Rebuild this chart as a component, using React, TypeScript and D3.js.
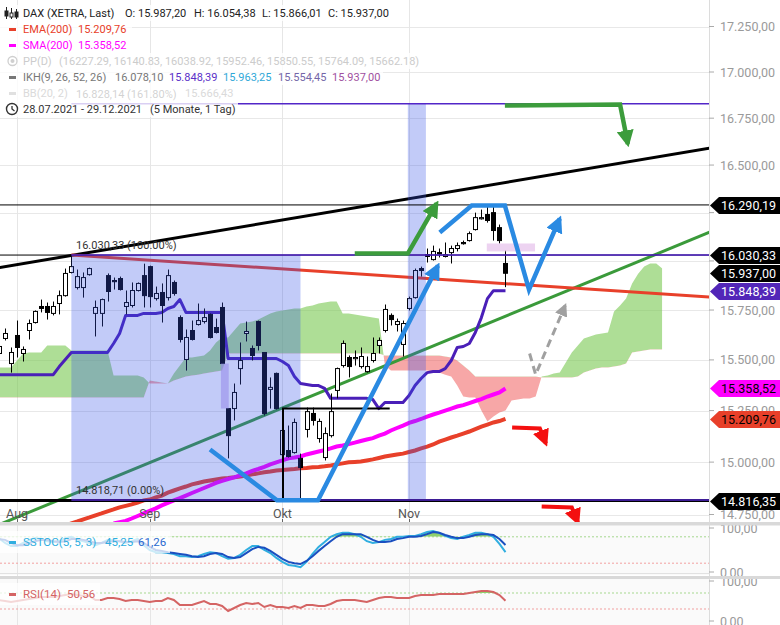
import React from 'react';
import * as d3 from 'd3';

const W = 780;
const H = 625;
const PLOT_R = 709;
const MAIN_BOTTOM = 522;
const FONT = "Roboto, 'Liberation Sans', Arial, sans-serif";

// trading days from 28.07.2021, index 0 .. 84 (23.11.2021)
const MONTHS = [
  { label: 'Aug', idx: 3 },
  { label: 'Sep', idx: 25 },
  { label: 'Okt', idx: 47 },
  { label: 'Nov', idx: 68 },
];

const OPEN = [15532, 15607, 15482, 15622, 15532, 15647, 15687, 15768, 15768, 15733,
  15783, 15823, 15941, 15864, 15864, 15930, 15733, 15733, 15925, 15900,
  15910, 15768, 15773, 15849, 15925, 15971, 15808, 15839, 15813, 15890,
  15712, 15502, 15647, 15677, 15692, 15728, 15662, 15763, 15260, 15260,
  15457, 15632, 15557, 15692, 15537, 15354, 15433, 15036, 15056, 15046,
  15018, 15158, 15236, 15114, 15022, 15128, 15349, 15472, 15512, 15507,
  15467, 15442, 15497, 15572, 15647, 15723, 15677, 15577, 15758, 15813,
  15961, 16033, 16007, 16043, 16023, 16043, 16064, 16095, 16105, 16162,
  16219, 16240, 16250, 16172, 15987.2];
const HIGH = [15607, 15657, 15562, 15697, 15567, 15702, 15748, 15803, 15788, 15793,
  15849, 15961, 16030.33, 15956, 15941, 15966, 15798, 15808, 15936, 15915,
  15920, 15849, 15890, 15890, 15986, 15976, 15869, 15885, 15956, 15900,
  15723, 15652, 15697, 15783, 15758, 15733, 15707, 15788, 15260, 15383,
  15587, 15692, 15572, 15697, 15537, 15413, 15437, 15260, 15177, 15211,
  15041, 15265, 15265, 15211, 15168, 15334, 15462, 15597, 15522, 15547,
  15562, 15517, 15612, 15612, 15778, 15733, 15707, 15697, 15818, 15961,
  15971, 16064, 16079, 16064, 16095, 16079, 16095, 16105, 16152, 16250,
  16266, 16290.19, 16280, 16188, 16054.38];
const LOW = [15497, 15597, 15437, 15512, 15492, 15602, 15682, 15738, 15702, 15723,
  15728, 15818, 15936, 15854, 15813, 15925, 15617, 15667, 15793, 15854,
  15849, 15728, 15763, 15844, 15763, 15763, 15798, 15687, 15798, 15823,
  15587, 15447, 15597, 15672, 15682, 15607, 15632, 15482, 15018, 15202,
  15378, 15592, 15497, 15547, 15226, 15260, 15255, 14984, 15022, 15041,
  14818.71, 15119, 15177, 15094, 15008, 15119, 15310, 15462, 15413, 15472,
  15457, 15437, 15487, 15532, 15637, 15672, 15642, 15517, 15748, 15808,
  15920, 15992, 16002, 16018, 16018, 15987, 16049, 16084, 16100, 16157,
  16214, 16198, 16105, 16090, 15866.01];
const CLOSE = [15567, 15632, 15537, 15562, 15552, 15682, 15743, 15758, 15738, 15768,
  15823, 15936, 15971, 15920, 15915, 15961, 15763, 15803, 15844, 15895,
  15854, 15788, 15849, 15885, 15823, 15818, 15834, 15773, 15925, 15834,
  15602, 15612, 15602, 15697, 15712, 15612, 15637, 15482, 15128, 15339,
  15497, 15642, 15522, 15572, 15236, 15364, 15260, 15153, 15027, 15192,
  14974, 15245, 15202, 15197, 15138, 15245, 15457, 15582, 15467, 15512,
  15517, 15467, 15532, 15597, 15753, 15702, 15692, 15682, 15808, 15951,
  15951, 16023, 16049, 16038, 16033, 16064, 16079, 16090, 16141, 16224,
  16224, 16209, 16157, 16105, 15937];

// Ichimoku Kijun-sen
const KIJUN = [15427, 15427, 15427, 15427, 15427, 15427, 15427, 15427, 15427, 15427,
  15467, 15502, 15537, 15537, 15537, 15537, 15537, 15537, 15537, 15582,
  15632, 15723, 15723, 15723, 15733, 15733, 15733, 15738, 15758, 15768,
  15803, 15738, 15738, 15738, 15738, 15738, 15738, 15738, 15507, 15507,
  15507, 15507, 15507, 15507, 15507, 15507, 15507, 15492, 15472, 15418,
  15383, 15378, 15373, 15373, 15359, 15310, 15310, 15310, 15310, 15310,
  15310, 15310, 15304, 15260, 15290, 15290, 15290, 15290, 15324, 15373,
  15408, 15437, 15442, 15442, 15457, 15497, 15562, 15567, 15582, 15637,
  15712, 15808, 15848.39, 15848.39, 15848.39];

// Senkou span A / B (already shifted 26 days forward), index 0 .. 110
const SENKOU_A = [15462, 15462, 15462, 15497, 15532, 15537, 15537, 15537, 15572, 15572,
  15572, 15572, 15547, 15547, 15547, 15547, 15547, 15547, 15547, 15423,
  15423, 15423, 15423, 15423, 15413, 15383, 15383, 15383, 15383, 15432,
  15472, 15512, 15512, 15517, 15522, 15547, 15587, 15612, 15612, 15647,
  15682, 15687, 15692, 15702, 15718, 15733, 15743, 15748, 15753, 15758,
  15758, 15768, 15773, 15783, 15788, 15793, 15793, 15733, 15733, 15728,
  15723, 15718, 15712, 15707, 15472, 15447, 15447, 15447, 15447, 15447,
  15447, 15447, 15442, 15437, 15427, 15418, 15373, 15319, 15314, 15314,
  15250, 15197, 15221, 15241, 15250, 15299, 15304, 15309, 15309, 15319,
  15418, 15423, 15432, 15437, 15487, 15537, 15572, 15607, 15617, 15627,
  15632, 15637, 15743, 15773, 15808, 15885, 15935, 15971, 15987, 15987,
  15961];
const SENKOU_B = [15314, 15314, 15314, 15314, 15314, 15314, 15314, 15314, 15314, 15314,
  15314, 15314, 15314, 15314, 15314, 15314, 15314, 15314, 15314, 15314,
  15314, 15314, 15314, 15314, 15314, 15398, 15393, 15388, 15383, 15398,
  15408, 15418, 15423, 15427, 15432, 15437, 15442, 15447, 15532, 15532,
  15532, 15532, 15532, 15532, 15532, 15532, 15532, 15532, 15532, 15532,
  15532, 15532, 15532, 15532, 15532, 15532, 15532, 15532, 15532, 15532,
  15532, 15532, 15532, 15532, 15522, 15522, 15522, 15522, 15522, 15522,
  15522, 15522, 15522, 15522, 15517, 15512, 15497, 15472, 15447, 15418,
  15418, 15418, 15418, 15418, 15418, 15418, 15418, 15418, 15418, 15418,
  15413, 15413, 15413, 15413, 15413, 15413, 15418, 15437, 15447, 15457,
  15462, 15462, 15467, 15472, 15482, 15537, 15542, 15547, 15552, 15552,
  15552];

const EMA_START = 10;
const EMA200 = [14689, 14698, 14708, 14717, 14727, 14736, 14746, 14755, 14765, 14774,
  14784, 14791, 14798, 14807, 14817, 14821, 14831, 14840, 14854, 14864,
  14874, 14883, 14893, 14900, 14907, 14912, 14917, 14922, 14924, 14927,
  14931, 14936, 14941, 14946, 14951, 14955, 14960, 14962, 14965, 14967,
  14970, 14972, 14975, 14977, 14980, 14984, 14989, 14994, 14999, 15001,
  15003, 15008, 15013, 15020, 15027, 15032, 15037, 15041, 15049, 15056,
  15066, 15075, 15085, 15099, 15109, 15119, 15128, 15138, 15148, 15160,
  15172, 15182, 15192, 15199, 15209.76];

const SMA_START = 19;
const SMA200 = [14708, 14714, 14720, 14731, 14743, 14755, 14767, 14779, 14793, 14805, 14817,
  14828, 14840, 14852, 14864, 14876, 14888, 14900, 14910, 14919, 14927,
  14936, 14946, 14958, 14967, 14977, 14989, 14999, 15008, 15018, 15022,
  15027, 15037, 15044, 15051, 15058, 15066, 15075, 15080, 15087, 15094,
  15102, 15109, 15116, 15128, 15138, 15153, 15165, 15177, 15190, 15199,
  15209, 15221, 15231, 15240, 15250, 15260, 15270, 15277, 15287, 15297,
  15306, 15319, 15329, 15339, 15358.52];

const SSTOC_K = [77, 66, 59, 59, 66, 73, 77, 75, 70, 68, 70, 77, 80, 73, 70, 66, 61, 66, 73, 73,
  70, 66, 70, 75, 61, 50, 45, 45, 43, 41, 36, 36, 34, 36, 41, 45, 43, 36, 30, 32,
  39, 50, 59, 59, 50, 43, 32, 23, 16, 14, 11, 23, 41, 57, 68, 80, 86, 89, 89, 86,
  80, 70, 66, 68, 73, 75, 80, 80, 82, 82, 86, 91, 93, 89, 82, 77, 75, 80, 84, 89,
  89, 86, 80, 64, 45.25];
const SSTOC_D = [75, 73, 66, 61, 61, 66, 70, 73, 73, 70, 68, 70, 75, 75, 73, 70, 66, 66, 68, 70,
  70, 68, 68, 70, 66, 57, 50, 48, 45, 43, 41, 39, 36, 34, 36, 41, 43, 41, 34, 32,
  34, 43, 52, 57, 55, 48, 39, 30, 23, 20, 18, 25, 36, 48, 59, 70, 80, 86, 86, 86,
  86, 80, 73, 68, 68, 70, 75, 77, 80, 80, 82, 86, 91, 89, 84, 80, 77, 77, 80, 84,
  86, 86, 84, 75, 61.26];
const RSI = [52.5, 50, 47.5, 50, 52.5, 55, 57.5, 60, 60, 60, 62.5, 65, 67.5, 65, 62.5, 62.5, 52.5, 52.5, 57.5, 57.5,
  55, 50, 52.5, 52.5, 50, 47.5, 50, 50, 57.5, 52.5, 40, 40, 40, 45, 50, 42.5, 42.5, 37.5, 25, 32.5,
  40, 45, 42.5, 45, 35, 40, 35, 35, 32.5, 37.5, 32.5, 40, 40, 37.5, 37.5, 42.5, 50, 52.5, 52.5, 52.5,
  50, 47.5, 52.5, 57.5, 60, 60, 57.5, 57.5, 57.5, 62.5, 65, 65, 65, 67.5, 67.5, 67.5, 67.5, 67.5, 70, 72.5,
  75, 75, 72.5, 65, 50.56];

// 16.250 and 16.000 sit fully behind price tags, so they are not drawn
const PRICE_TICKS = [14750, 15000, 15250, 15500, 15750, 16500, 16750, 17000, 17250];
const GRID_TICKS = [14750, 15000, 15250, 15500, 15750, 16000, 16250, 16500, 16750, 17000, 17250];

// drawings: [dayIndex, price]
const TREND_BLACK = [[0, 15966], [118, 16590]];
const TREND_RED = [[12, 16030.33], [118, 15815]];
const TREND_GREEN = [[0, 14702], [118, 16150]];
const FIB_HIGH = 16030.33;
const FIB_LOW = 14818.71;
const FIB_EXT = 16828.14;
const FIB_FROM = 12;
const FIB_TO = 50;
const H_LINES = [
  { v: 16290.19, w: 1 },
  { v: 16030.33, w: 1 },
  { v: 14816.35, w: 3 },
];
const NOV_BAND = [67.8, 70.8];
const GAP_BOX = [36.8, 38.1, 15482, 15260];
const PINK_BOX = [80.9, 88.9, 16090, 16049];
const BLACK_SEG = [[47.1, 14817], [47.1, 15260], [64.8, 15260]];
const ARROWS = [
  { color: '#3c9c3c', w: 4.5, dash: '', pts: [[59, 16038], [67.8, 16038], [72.6, 16298]] },
  { color: '#3c9c3c', w: 4.5, dash: '', pts: [[83.9, 16818], [103, 16824], [104.3, 16612]] },
  { color: '#2a8ae2', w: 4.5, dash: '', pts: [[35, 15061], [46.1, 14817], [52.9, 14817], [72.8, 15976]] },
  { color: '#2a8ae2', w: 4.5, dash: '', pts: [[73.1, 16147], [78.4, 16287], [83.9, 16287], [87.9, 15854], [93, 16219]] },
  { color: '#f41010', w: 4, dash: '', pts: [[85.1, 15168], [89.7, 15163], [90.7, 15090]] },
  { color: '#f41010', w: 4, dash: '', pts: [[90, 14788], [95, 14783], [96, 14712]] },
  { color: '#a0a0a0', w: 3, dash: '8,5', pts: [[88, 15532], [89, 15427], [93.9, 15773]] },
];

const RIGHT_TAGS = [
  { v: 16290.19, bg: '#000', fg: '#fff' },
  { v: 16030.33, bg: '#000', fg: '#fff' },
  { v: 15937.0, bg: '#000', fg: '#fff' },
  { v: 15848.39, bg: '#5226b8', fg: '#fff' },
  { v: 15358.52, bg: '#ff00ff', fg: '#000' },
  { v: 15209.76, bg: '#e8402a', fg: '#000' },
  { v: 14816.35, bg: '#000', fg: '#fff' },
];

const de = d3.formatLocale({ decimal: ',', thousands: '.', grouping: [3], currency: ['', ''] });
const fmt = de.format(',.2f');

const App: React.FC = () => {
  const xS = d3.scaleLinear().domain([0, 118]).range([-1, 710.5]);
  const yS = d3.scaleLog().domain([14750, 17250]).range([514.5, 26.5]);
  const stY = d3.scaleLinear().domain([0, 100]).range([572, 528]);
  const rsiY = d3.scaleLinear().domain([0, 100]).range([621, 581]);

  const ptLine = d3.line<number[]>().x(d => xS(d[0])).y(d => yS(d[1]));
  const seriesLine = (arr: number[], start: number) =>
    d3.line<number>().x((_, i) => xS(i + start)).y(d => yS(d))(arr) || '';

  const cloudIdx = d3.range(SENKOU_A.length);
  const cloudArea = d3.area<number>().x(i => xS(i)).y0(i => yS(SENKOU_B[i])).y1(i => yS(SENKOU_A[i]))(cloudIdx) || '';
  const aboveB = d3.area<number>().x(i => xS(i)).y0(-10).y1(i => yS(SENKOU_B[i]))(cloudIdx) || '';
  const belowB = d3.area<number>().x(i => xS(i)).y0(i => yS(SENKOU_B[i])).y1(H + 10)(cloudIdx) || '';

  const idx = d3.range(SSTOC_K.length);
  const kLine = d3.line<number>().x(i => xS(i)).y(i => stY(SSTOC_K[i]))(idx) || '';
  const dLine = d3.line<number>().x(i => xS(i)).y(i => stY(SSTOC_D[i]))(idx) || '';
  const stFill = d3.area<number>().x(i => xS(i)).y0(stY(80)).y1(i => stY(Math.max(SSTOC_K[i], SSTOC_D[i])))(idx) || '';
  const rsiLine = d3.line<number>().x(i => xS(i)).y(i => rsiY(RSI[i]))(idx) || '';
  const rsiFill = d3.area<number>().x(i => xS(i)).y0(rsiY(70)).y1(i => rsiY(RSI[i]))(idx) || '';

  const fibX0 = xS(FIB_FROM);
  const fibX1 = xS(FIB_TO);

  const legendRows = [13, 29, 45, 61, 77, 93, 109];
  const legendW = [395, 132, 132, 421, 383, 236, 238];

  return (
    <div style={{ position: 'absolute', left: 0, top: 0 }}>
      <svg width={W} height={H} style={{ display: 'block', fontFamily: FONT }}>
        <defs>
          <clipPath id="mainClip"><rect x={0} y={0} width={PLOT_R} height={MAIN_BOTTOM} /></clipPath>
          <clipPath id="aboveB"><path d={aboveB} /></clipPath>
          <clipPath id="belowB"><path d={belowB} /></clipPath>
          <clipPath id="st80"><rect x={0} y={520} width={PLOT_R} height={stY(80) - 520} /></clipPath>
          <clipPath id="rsi70"><rect x={0} y={578} width={PLOT_R} height={rsiY(70) - 578} /></clipPath>
          {ARROWS.map((a, k) => (
            <marker key={k} id={`ah${k}`} viewBox="0 0 10 10" refX={8} refY={5}
              markerWidth={a.color === '#a0a0a0' ? 13 : 17} markerHeight={a.color === '#a0a0a0' ? 13 : 17}
              markerUnits="userSpaceOnUse" orient="auto">
              <path d="M0,0 L10,5 L0,10 Z" fill={a.color} />
            </marker>
          ))}
        </defs>

        <rect x={0} y={0} width={W} height={H} fill="#fff" />

        {/* grid */}
        {GRID_TICKS.map(t => (
          <line key={t} x1={0} x2={PLOT_R} y1={Math.round(yS(t)) + 0.5} y2={Math.round(yS(t)) + 0.5} stroke="#e8e8e8" />
        ))}
        {MONTHS.map(m => (
          <line key={m.label} x1={Math.round(xS(m.idx)) + 0.5} x2={Math.round(xS(m.idx)) + 0.5} y1={0} y2={H} stroke="#e6e6e6" />
        ))}

        <g clipPath="url(#mainClip)">
          {/* Ichimoku cloud */}
          <path d={cloudArea} fill="rgb(120,200,80)" fillOpacity={0.6} clipPath="url(#aboveB)" />
          <path d={cloudArea} fill="rgb(240,80,80)" fillOpacity={0.5} clipPath="url(#belowB)" />

          {/* trend lines */}
          <path d={ptLine(TREND_GREEN as any) || ''} stroke="#3a9a3a" strokeWidth={3} fill="none" />
          <path d={ptLine(TREND_BLACK as any) || ''} stroke="#000" strokeWidth={3} fill="none" />
          <path d={ptLine(TREND_RED as any) || ''} stroke="#e8402a" strokeWidth={3} fill="none" />

          {/* moving averages */}
          <path d={seriesLine(EMA200, EMA_START)} stroke="#e8402a" strokeWidth={4} fill="none" />
          <path d={seriesLine(SMA200, SMA_START)} stroke="#ff00ff" strokeWidth={4} fill="none" />

          {/* kijun */}
          <path d={seriesLine(KIJUN, 0)} stroke="#4a1fb8" strokeWidth={3} fill="none" strokeLinejoin="round" />

          {/* candles */}
          {OPEN.map((o, i) => {
            const c = CLOSE[i];
            const up = c >= o;
            const x = Math.round(xS(i)) + 0.5;
            const yT = yS(Math.max(o, c));
            const yB = yS(Math.min(o, c));
            return (
              <g key={i}>
                <line x1={x} x2={x} y1={yS(HIGH[i])} y2={yS(LOW[i])} stroke="#000" strokeWidth={1} />
                <rect x={x - 2} y={yT} width={4} height={Math.max(1.2, yB - yT)} fill={up ? '#fff' : '#000'} stroke="#000" strokeWidth={1} />
              </g>
            );
          })}

          {/* gap marker */}
          <rect x={xS(GAP_BOX[0])} y={yS(GAP_BOX[2])} width={xS(GAP_BOX[1]) - xS(GAP_BOX[0])} height={yS(GAP_BOX[3]) - yS(GAP_BOX[2])}
            fill="rgb(190,160,235)" fillOpacity={0.55} />

          {/* fibonacci boxes */}
          <rect x={fibX0} y={yS(FIB_HIGH)} width={fibX1 - fibX0} height={yS(FIB_LOW) - yS(FIB_HIGH)} fill="rgb(52,82,232)" fillOpacity={0.3} />
          <rect x={xS(NOV_BAND[0])} y={yS(FIB_EXT)} width={xS(NOV_BAND[1]) - xS(NOV_BAND[0])} height={yS(FIB_LOW) - yS(FIB_EXT)} fill="rgb(52,82,232)" fillOpacity={0.3} />

          <rect x={xS(PINK_BOX[0])} y={yS(PINK_BOX[2])} width={xS(PINK_BOX[1]) - xS(PINK_BOX[0])} height={yS(PINK_BOX[3]) - yS(PINK_BOX[2])}
            fill="rgb(232,200,238)" fillOpacity={0.8} />

          {/* horizontal lines */}
          {H_LINES.map(h => (
            <line key={h.v} x1={0} x2={PLOT_R} y1={yS(h.v)} y2={yS(h.v)} stroke="#000" strokeWidth={h.w} />
          ))}
          {[FIB_EXT, FIB_HIGH, FIB_LOW].map(v => (
            <line key={v} x1={fibX0} x2={PLOT_R} y1={yS(v)} y2={yS(v)} stroke="#5226c8" strokeWidth={1.5} />
          ))}
          <text x={76} y={yS(FIB_HIGH) - 6} fontSize={11} fill="#333">{`${fmt(FIB_HIGH)} (100.00%)`}</text>
          <text x={76} y={yS(FIB_LOW) - 6} fontSize={11} fill="#333">{`${fmt(FIB_LOW)} (0.00%)`}</text>
          <text x={76} y={yS(FIB_EXT) - 6} fontSize={11} fill="#333">{`${fmt(FIB_EXT)} (161.80%)`}</text>

          {/* drawings */}
          <path d={ptLine(BLACK_SEG as any) || ''} stroke="#000" strokeWidth={2} fill="none" />
          {ARROWS.map((a, k) => (
            <path key={k} d={ptLine(a.pts as any) || ''} stroke={a.color} strokeWidth={a.w} fill="none"
              strokeDasharray={a.dash || undefined} markerEnd={`url(#ah${k})`} />
          ))}
        </g>

        {/* month labels */}
        {MONTHS.map(m => (
          <g key={m.label}>
            <text x={xS(m.idx)} y={518} textAnchor="middle" fontSize={12.5} fill="#555">{m.label}</text>
            <line x1={Math.round(xS(m.idx)) + 0.5} x2={Math.round(xS(m.idx)) + 0.5} y1={519} y2={523} stroke="#666" />
          </g>
        ))}

        {/* legend */}
        {legendRows.map((y, k) => (
          <rect key={k} x={0} y={y - 8} width={legendW[k]} height={16} fill="#fff" fillOpacity={0.78} />
        ))}
        <g fontSize={11}>
          <g stroke="#222" strokeWidth={1}>
            <line x1={6.5} x2={6.5} y1={7} y2={19} />
            <rect x={5} y={11} width={3} height={5} fill="#222" />
            <line x1={11.5} x2={11.5} y1={8} y2={19} />
            <rect x={10} y={13} width={3} height={4} fill="#fff" />
            <line x1={16.5} x2={16.5} y1={9} y2={19} />
            <rect x={15} y={12} width={3} height={5} fill="#222" />
          </g>
          <text x={23} y={legendRows[0] + 4} fill="#222">DAX (XETRA, Last)</text>
          <text x={125} y={legendRows[0] + 4} fill="#222">O: 15.987,20</text>
          <text x={194} y={legendRows[0] + 4} fill="#222">H: 16.054,38</text>
          <text x={262} y={legendRows[0] + 4} fill="#222">L: 15.866,01</text>
          <text x={328} y={legendRows[0] + 4} fill="#222">C: 15.937,00</text>

          <rect x={9} y={legendRows[1] - 1} width={7} height={3} fill="#e8402a" />
          <text x={23} y={legendRows[1] + 4} fill="#e8402a">EMA(200)</text>
          <text x={78} y={legendRows[1] + 4} fill="#e8402a">15.209,76</text>

          <rect x={9} y={legendRows[2] - 1} width={7} height={3} fill="#ff00ff" />
          <text x={23} y={legendRows[2] + 4} fill="#ff00ff">SMA(200)</text>
          <text x={78} y={legendRows[2] + 4} fill="#ff00ff">15.358,52</text>

          <circle cx={12.5} cy={legendRows[3]} r={4.5} fill="none" stroke="#cfcfcf" strokeWidth={1.3} />
          <circle cx={12.5} cy={legendRows[3]} r={2} fill="#cfcfcf" />
          <text x={23} y={legendRows[3] + 4} fill="#cccccc">PP(D)</text>
          <text x={59} y={legendRows[3] + 4} fill="#cccccc">(16227.29, 16140.83, 16038.92, 15952.46, 15850.55, 15764.09, 15662.18)</text>

          <rect x={9} y={legendRows[4] - 1} width={7} height={3} fill="#777" />
          <text x={23} y={legendRows[4] + 4} fill="#777">IKH(9, 26, 52, 26)</text>
          <text x={115} y={legendRows[4] + 4} fill="#777">16.078,10</text>
          <text x={169} y={legendRows[4] + 4} fill="#5a2fc8">15.848,39</text>
          <text x={223} y={legendRows[4] + 4} fill="#30a8d8">15.963,25</text>
          <text x={278} y={legendRows[4] + 4} fill="#7466a8">15.554,45</text>
          <text x={332} y={legendRows[4] + 4} fill="#a050a0">15.937,00</text>

          <rect x={9} y={legendRows[5] - 1} width={7} height={3} fill="#e0e0e0" />
          <text x={23} y={legendRows[5] + 4} fill="#dadada">BB(20, 2)</text>
          <text x={185} y={legendRows[5] + 4} fill="#dadada">15.666,43</text>

          <circle cx={12} cy={legendRows[6]} r={5.5} fill="none" stroke="#333" strokeWidth={1.4} />
          <path d={`M12,${legendRows[6] - 3} L12,${legendRows[6]} L14.5,${legendRows[6] + 2}`} stroke="#333" strokeWidth={1.3} fill="none" />
          <text x={23} y={legendRows[6] + 4} fill="#333">28.07.2021 - 29.12.2021</text>
          <text x={150} y={legendRows[6] + 4} fill="#333">(5 Monate, 1 Tag)</text>
        </g>

        {/* lower panels */}
        <rect x={0} y={525} width={PLOT_R} height={50} fill="#fafafa" />
        <rect x={0} y={579} width={PLOT_R} height={46} fill="#fafafa" />
        {MONTHS.map(m => (
          <line key={'v' + m.label} x1={Math.round(xS(m.idx)) + 0.5} x2={Math.round(xS(m.idx)) + 0.5} y1={525} y2={H} stroke="#e6e6e6" />
        ))}
        <line x1={0} x2={PLOT_R} y1={573.5} y2={573.5} stroke="#e2e2e2" />
        <line x1={0} x2={PLOT_R} y1={stY(80)} y2={stY(80)} stroke="#a6d88f" strokeDasharray="2,2" />
        <line x1={0} x2={PLOT_R} y1={stY(20)} y2={stY(20)} stroke="#f2a0a0" strokeDasharray="2,2" />
        <line x1={0} x2={PLOT_R} y1={rsiY(70)} y2={rsiY(70)} stroke="#a6d88f" strokeDasharray="2,2" />
        <line x1={0} x2={PLOT_R} y1={rsiY(30)} y2={rsiY(30)} stroke="#f2a0a0" strokeDasharray="2,2" />

        <path d={stFill} fill="#8fd16e" clipPath="url(#st80)" />
        <path d={kLine} stroke="#30aee0" strokeWidth={2} fill="none" />
        <path d={dLine} stroke="#1a4fc0" strokeWidth={2} fill="none" />
        <path d={rsiFill} fill="#8fd16e" clipPath="url(#rsi70)" />
        <path d={rsiLine} stroke="#d46464" strokeWidth={2} fill="none" />

        <rect x={0} y={531} width={170} height={22} fill="#fff" fillOpacity={0.75} />
        <rect x={9} y={541} width={7} height={3} fill="#30aee0" />
        <text x={23} y={546} fontSize={11.5} fill="#30aee0">SSTOC(5, 5, 3)</text>
        <text x={105} y={546} fontSize={11.5} fill="#30aee0">45,25</text>
        <text x={138} y={546} fontSize={11.5} fill="#2a6ad0">61,26</text>

        <rect x={0} y={583} width={100} height={22} fill="#fff" fillOpacity={0.75} />
        <rect x={9} y={593} width={7} height={3} fill="#d46464" />
        <text x={23} y={598} fontSize={11.5} fill="#d46464">RSI(14)</text>
        <text x={67} y={598} fontSize={11.5} fill="#d46464">50,56</text>

        {/* right axis */}
        <line x1={PLOT_R + 0.5} x2={PLOT_R + 0.5} y1={0} y2={H} stroke="#dcdcdc" />
        {GRID_TICKS.map(t => (
          <line key={'tk' + t} x1={PLOT_R} x2={PLOT_R + 5} y1={yS(t)} y2={yS(t)} stroke="#aaa" />
        ))}
        {PRICE_TICKS.map(t => (
          <text key={'t' + t} x={720} y={yS(t) + 4.5} fontSize={12.5} fill="#9a9a9a">{fmt(t)}</text>
        ))}
        {[[100, stY], [0, stY], [100, rsiY], [0, rsiY]].map(([v, s]: any, k) => (
          <g key={'s' + k}>
            <line x1={PLOT_R} x2={PLOT_R + 5} y1={s(v)} y2={s(v)} stroke="#aaa" />
            <text x={720} y={s(v) + 4.5} fontSize={12.5} fill="#9a9a9a">{fmt(v)}</text>
          </g>
        ))}

        {/* separators */}
        <rect x={0} y={522} width={W} height={3.5} fill="#d9d9d9" />
        <rect x={0} y={576} width={W} height={3} fill="#d9d9d9" />

        {RIGHT_TAGS.map(t => {
          const y = Math.round(yS(t.v)) + 0.5;
          return (
            <g key={'tag' + t.v}>
              <path d={`M710,${y} L719,${y - 8.5} L780,${y - 8.5} L780,${y + 8.5} L719,${y + 8.5} Z`} fill={t.bg} />
              <text x={721} y={y + 4.5} fontSize={12.5} fill={t.fg}>{fmt(t.v)}</text>
            </g>
          );
        })}
      </svg>
    </div>
  );
};

export default App;
